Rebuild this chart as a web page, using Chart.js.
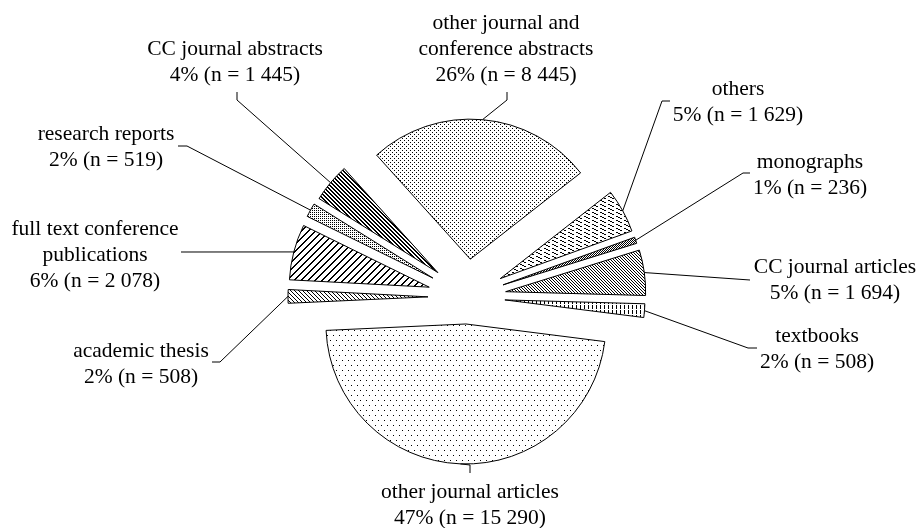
<!DOCTYPE html>
<html>
<head>
<meta charset="utf-8">
<script src="https://cdn.jsdelivr.net/npm/chart.js@4.4.1/dist/chart.umd.min.js"></script>
<style>
html,body{margin:0;padding:0;background:#fff;}
#wrap{width:919px;height:528px;}
</style>
</head>
<body>
<div id="wrap"><canvas id="c" width="919" height="528"></canvas></div>
<script>
// ---- data (clockwise from the top slice) ----
const categories = ['other journal and conference abstracts','others','monographs','CC journal articles','textbooks','other journal articles','academic thesis','full text conference publications','research reports','CC journal abstracts'];
const counts = [8445, 1629, 236, 1694, 508, 15290, 508, 2078, 519, 1445];
const percentLabels = ['26%','5%','1%','5%','2%','47%','2%','6%','2%','4%'];
const countLabels = ['8 445','1 629','236','1 694','508','15 290','508','2 078','519','1 445'];
const labelLines = [
  ['other journal and','conference abstracts'],
  ['others'],
  ['monographs'],
  ['CC journal articles'],
  ['textbooks'],
  ['other journal articles'],
  ['academic thesis'],
  ['full text conference','publications'],
  ['research reports'],
  ['CC journal abstracts']
];

// ---- style / layout ----
const explode = [38, 38, 38, 39, 38, 27, 39, 39, 39, 38];   // px each slice is pulled out
const labelLayout = [
  {x:506, y:29,  leader:[[507,92],[507,100]]},
  {x:738, y:95,  leader:[[670,101],[662,101]]},
  {x:810, y:168, leader:[[750,173],[743,173]]},
  {x:835, y:273, leader:[[750,280]]},
  {x:817, y:342, leader:[[757,348],[748,348]]},
  {x:470, y:498, leader:[[470,473],[470,465]]},
  {x:141, y:357, leader:[[212,362],[220,362]]},
  {x:95,  y:235, leader:[[181,252]]},
  {x:106, y:140, leader:[[178,146],[187,146]]},
  {x:235, y:55,  leader:[[237,92],[237,100]]}
];

function makePattern(w, h, pixels) {
  const c = document.createElement('canvas');
  c.width = w; c.height = h;
  const g = c.getContext('2d');
  g.fillStyle = '#fff'; g.fillRect(0,0,w,h);
  g.fillStyle = '#000';
  pixels.forEach(p => g.fillRect(p[0], p[1], 1, 1));
  return document.getElementById('c').getContext('2d').createPattern(c, 'repeat');
}
function diagBack(n, width) { const px=[]; for (let i=0;i<n;i++) for (let k=0;k<width;k++) px.push([(i+k)%n, i]); return px; }
function diagFwd(n, width) { const px=[]; for (let i=0;i<n;i++) for (let k=0;k<width;k++) px.push([(n-1-i+k)%n, i]); return px; }

const fills = [
  makePattern(4,4,[[0,0],[2,2]]),                               // abstracts: fine dots
  makePattern(8,4,[[0,0],[1,0],[2,1],[3,1],[4,2],[5,2]]),      // others: light shallow hatch
  makePattern(2,2,[[0,0],[1,1]]),                               // monographs: checker
  makePattern(3,3,diagBack(3,1)),                               // CC journal articles
  makePattern(4,5,[[0,0],[0,1],[0,2],[0,3]]),                   // textbooks: vertical ticks
  makePattern(6,10,[[0,0],[3,5]]),                              // other journal articles: sparse dots
  makePattern(4,4,diagBack(4,1)),                               // academic thesis
  makePattern(7,7,diagFwd(7,2)),                                // full text conference
  makePattern(2,2,[[0,0]]),                                     // research reports: dense dots
  makePattern(4,4,diagBack(4,2))                                // CC journal abstracts
];

const R = 140;

// pull every slice out along its mid-angle (same radius for all slices)
const explodePlugin = {
  id: 'explodePlugin',
  beforeDatasetDraw(chart, args) {
    args.meta.data.forEach((el, i) => {
      el._ox = el.x; el._oy = el.y;
      const h = (el.startAngle + el.endAngle) / 2;
      el.x = el._ox + explode[i] * Math.cos(h);
      el.y = el._oy + explode[i] * Math.sin(h);
    });
  },
  afterDatasetDraw(chart, args) {
    args.meta.data.forEach(el => { el.x = el._ox; el.y = el._oy; });
  }
};

const labelPlugin = {
  id: 'labelPlugin',
  afterDraw(chart) {
    const ctx = chart.ctx;
    const meta = chart.getDatasetMeta(0);
    ctx.save();
    ctx.strokeStyle = '#000';
    ctx.lineWidth = 1;
    ctx.fillStyle = '#000';
    ctx.font = '21.5px "Liberation Serif", "Times New Roman", serif';
    ctx.textAlign = 'center';
    ctx.textBaseline = 'alphabetic';
    meta.data.forEach((el, i) => {
      const h = (el.startAngle + el.endAngle) / 2;
      const d = explode[i] + el.outerRadius;
      const px = el.x + d * Math.cos(h);
      const py = el.y + d * Math.sin(h);
      const L = labelLayout[i];
      ctx.beginPath();
      ctx.moveTo(L.leader[0][0], L.leader[0][1]);
      for (let k = 1; k < L.leader.length; k++) ctx.lineTo(L.leader[k][0], L.leader[k][1]);
      ctx.lineTo(px, py);
      ctx.stroke();
      const lines = labelLines[i].concat([percentLabels[i] + ' (n = ' + countLabels[i] + ')']);
      lines.forEach((t, k) => ctx.fillText(t, L.x, L.y + k * 26));
    });
    ctx.restore();
  }
};

new Chart(document.getElementById('c'), {
  type: 'pie',
  data: {
    labels: categories,
    datasets: [{
      data: counts,
      backgroundColor: fills,
      borderColor: '#000',
      borderWidth: 1,
      borderJoinStyle: 'miter',
      offset: 0,
      hoverOffset: 0
    }]
  },
  options: {
    responsive: false,
    devicePixelRatio: 1,
    animation: false,
    events: [],
    rotation: -42,
    radius: R,
    layout: { padding: { left: 15, right: 0, top: 66, bottom: 0 } },
    plugins: { legend: { display: false }, tooltip: { enabled: false } }
  },
  plugins: [explodePlugin, labelPlugin]
});
</script>
</body>
</html>
